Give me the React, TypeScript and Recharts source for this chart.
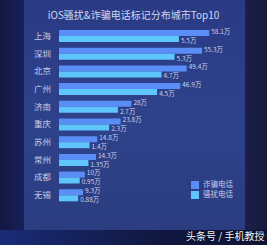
import { Bar, BarChart, LabelList, Legend, XAxis, YAxis } from "recharts";

const cities = ["上海", "深圳", "北京", "广州", "济南", "重庆", "苏州", "常州", "成都", "无锡"];
const fraud = [58.1, 55.3, 49.4, 46.9, 28, 23.8, 14.8, 14.3, 10, 9.3];
const harass = [5.5, 5.3, 4.7, 4.5, 2.7, 2.3, 1.4, 1.35, 0.95, 0.88];

const data = cities.map((city, i) => ({ city, fraud: fraud[i], harass: harass[i] }));

const FONT = "'Noto Sans CJK SC', 'Noto Sans', sans-serif";

export default function App() {
  return (
    <div style={{ position: "absolute", left: 0, top: 0, width: 267, height: 245, overflow: "hidden",
      background: "linear-gradient(90deg, #121742 0%, #18205a 9%, #1b1f4a 92%, #171a3c 100%)", fontFamily: FONT }}>
      {/* panel */}
      <div style={{ position: "absolute", left: 24, top: 0, width: 221, height: 232,
        background: "linear-gradient(180deg, #2a3b84 0%, #2e428b 55%, #2b3d80 100%)" }} />
      <div style={{ position: "absolute", left: 0, top: 230, width: 267, height: 15,
        background: "linear-gradient(90deg, #1a2b78 0%, #10173f 60%, #0f1436 100%)" }} />
      <div style={{ position: "absolute", left: 0, top: 7, width: 267, textAlign: "center",
        fontSize: 10, color: "#cfd8f2" }}>
        iOS骚扰&诈骗电话标记分布城市Top10
      </div>
      <div style={{ position: "absolute", left: 0, top: 0 }}>
        <BarChart width={267} height={245} data={data} layout="vertical"
          margin={{ top: 27, right: 27, left: 0, bottom: 21 }} barGap={0} barCategoryGap={0}>
          <XAxis xAxisId="a" type="number" domain={[0, 70]} hide />
          <XAxis xAxisId="b" type="number" domain={[0, 8.3]} hide />
          <YAxis type="category" dataKey="city" width={59} axisLine={false} tickLine={false}
            tick={{ fontSize: 8.5, fill: "#c3cce8", fontFamily: FONT }} />
          <Legend layout="vertical" iconType="square" iconSize={8}
            wrapperStyle={{ left: 191, top: 179, width: 60, fontSize: 7.5, lineHeight: "10px" }}
            formatter={(v) => <span style={{ color: "#c3cce8" }}>{v}</span>} />
          <Bar xAxisId="a" dataKey="fraud" name="诈骗电话" fill="#5a8ef6" barSize={6} isAnimationActive={false}>
            <LabelList dataKey="fraud" position="right" offset={2} fontSize={6.5} fill="#c9d1ea" dy={-1.5}
              formatter={(v: number) => `${v}万`} />
          </Bar>
          <Bar xAxisId="b" dataKey="harass" name="骚扰电话" fill="#5ec6fa" barSize={6} isAnimationActive={false}>
            <LabelList dataKey="harass" position="right" offset={2} fontSize={6.5} fill="#c9d1ea" dy={1.5}
              formatter={(v: number) => `${v}万`} />
          </Bar>
        </BarChart>
      </div>
      <div style={{ position: "absolute", left: 186, top: 228, fontSize: 10, color: "#f4f6fb",
        textShadow: "0 0 2px #000" }}>
        头条号 / 手机教授
      </div>
    </div>
  );
}
